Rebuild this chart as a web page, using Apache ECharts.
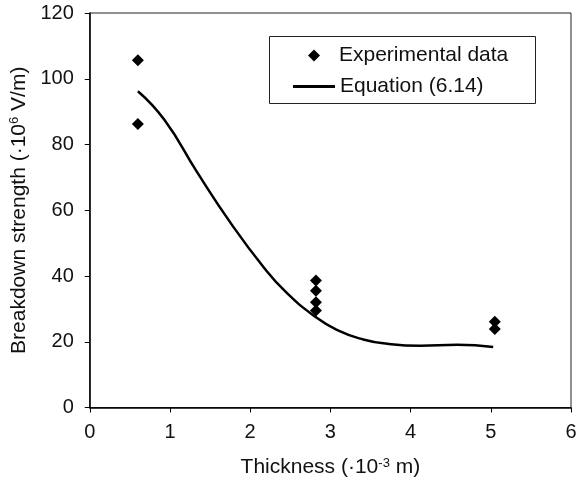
<!DOCTYPE html>
<html>
<head>
<meta charset="utf-8">
<script src="https://cdn.jsdelivr.net/npm/echarts@6/dist/echarts.min.js"></script>
<style>
  html, body { margin: 0; padding: 0; background: #fff; }
  #main { width: 581px; height: 483px; }
</style>
</head>
<body>
<div id="main"></div>
<script>
// measured points (thickness, breakdown strength)
var expData = [
  [0.6, 105.6], [0.6, 86.2],
  [2.82, 38.6], [2.82, 35.5], [2.82, 32.0], [2.82, 29.5],
  [5.05, 26.1], [5.05, 23.9]
];
// Equation (6.14)
var eqCurve = [
  [0.6, 96.2], [0.93, 87.5], [1.34, 71.5], [1.76, 56.0], [2.17, 42.6],
  [2.45, 35.0], [2.79, 28.0], [3.08, 23.6], [3.41, 20.7], [3.71, 19.4],
  [4.12, 18.8], [4.58, 19.1], [5.03, 18.4]
];
var xTicks = [0, 1, 2, 3, 4, 5, 6];
var yTicks = [0, 20, 40, 60, 80, 100, 120];

var font = 'Liberation Sans, Arial, sans-serif';
var supStyle = { fontFamily: font, fontSize: 13, color: '#111', verticalAlign: 'top', padding: [0, 0, 9, 0] };

var myChart = echarts.init(document.getElementById('main'));
var option = {
    animation: false,
    grid: {
        left: 89, right: 10, top: 13, bottom: 74,
        show: true, borderColor: '#222', borderWidth: 1
    },
    // legend frame
    graphic: [{
        type: 'rect',
        shape: { x: 269.5, y: 36.5, width: 266, height: 67 },
        style: { fill: '#fff', stroke: '#222', lineWidth: 1 },
        z: 10
    }],
    legend: [{
        left: 308, top: 45,
        itemWidth: 12, itemHeight: 12,
        padding: 0,
        textStyle: { fontFamily: font, fontSize: 21, color: '#111', padding: [0, 0, 0, 14] },
        data: [{ name: 'Experimental data', icon: 'diamond', itemStyle: { color: '#000' } }],
        z: 11
    }, {
        left: 293, top: 76,
        itemWidth: 42, itemHeight: 3,
        padding: 0,
        textStyle: { fontFamily: font, fontSize: 21, color: '#111' },
        data: [{ name: 'Equation (6.14)', icon: 'rect', itemStyle: { color: '#000' } }],
        z: 11
    }],
    xAxis: {
        type: 'value',
        min: xTicks[0], max: xTicks[xTicks.length - 1], interval: 1,
        name: 'Thickness (·10{sup|-3} m)',
        nameLocation: 'middle', nameGap: 49,
        nameTextStyle: { fontFamily: font, fontSize: 21, color: '#111', rich: { sup: supStyle } },
        axisLine: { lineStyle: { color: '#000', width: 1.5 } },
        axisTick: { inside: false, length: 5, lineStyle: { color: '#000' } },
        axisLabel: { fontFamily: font, fontSize: 20, color: '#111', margin: 15 },
        splitLine: { show: false }
    },
    yAxis: {
        type: 'value',
        min: yTicks[0], max: yTicks[yTicks.length - 1], interval: 20,
        name: 'Breakdown strength (·10{sup|6} V/m)',
        nameLocation: 'middle', nameGap: 49,
        nameTextStyle: { fontFamily: font, fontSize: 21, color: '#111', rich: { sup: supStyle } },
        axisLine: { lineStyle: { color: '#000', width: 1.5 } },
        axisTick: { inside: false, length: 5, lineStyle: { color: '#000' } },
        axisLabel: { fontFamily: font, fontSize: 20, color: '#111', margin: 16 },
        splitLine: { show: false }
    },
    series: [
        {
            name: 'Experimental data',
            type: 'scatter',
            symbol: 'diamond',
            symbolSize: 12,
            itemStyle: { color: '#000', opacity: 1 },
            data: expData,
            z: 3
        },
        {
            name: 'Equation (6.14)',
            type: 'line',
            smooth: 0.5,
            symbol: 'none',
            itemStyle: { color: '#000' },
            lineStyle: { color: '#000', width: 2.5 },
            data: eqCurve
        }
    ]
};
myChart.setOption(option);
</script>
</body>
</html>
